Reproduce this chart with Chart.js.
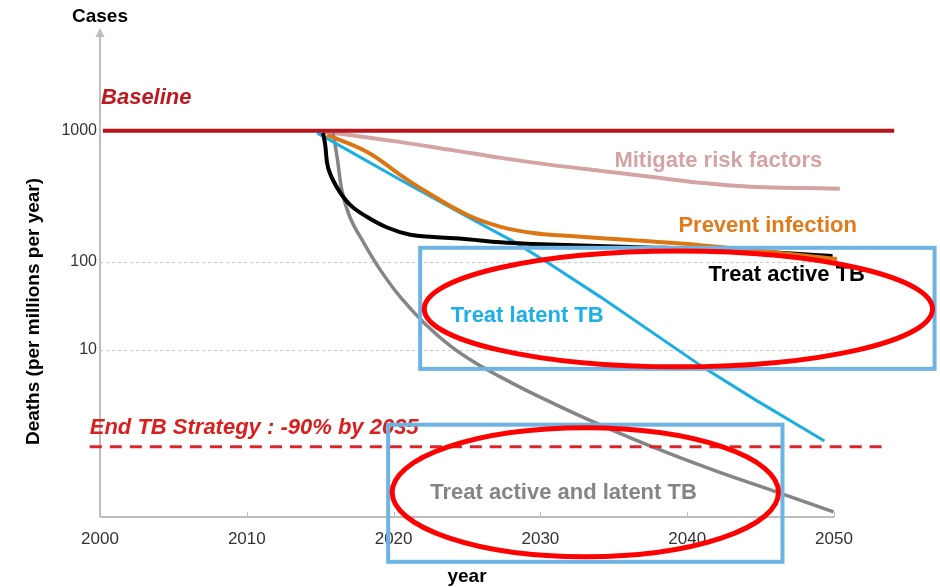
<!DOCTYPE html>
<html>
<head>
<meta charset="utf-8">
<script src="https://cdn.jsdelivr.net/npm/chart.js@4"></script>
<style>
  html, body { margin: 0; padding: 0; background: #fff; }
  #wrap { width: 940px; height: 587px; }
</style>
</head>
<body>
<div id="wrap"><canvas id="c" width="940" height="587"></canvas></div>
<script>
// ---------- data (years, deaths per million per year) ----------
const xTickYears = [2000, 2010, 2020, 2030, 2040, 2050];
const yTickValues = [10, 100, 1000];
const gridValues = [10, 100];

const baselineYears = [2000.2, 2054.1];
const baselineValues = [1000, 1000];

const endTBYears = [1999.3, 2053.8];
const endTBValues = [0.79, 0.79];

const mitigateYears = [2014.9, 2015.9, 2020.4, 2023.9, 2027.3, 2030.7, 2034.1, 2037.5, 2040.9, 2044.3, 2047.7, 2050.4];
const mitigateValues = [983, 965, 824, 716, 622, 550, 495, 446, 401, 374, 367, 361];

const preventYears = [2015.47, 2018.2, 2020.45, 2021.8, 2025.0, 2027.3, 2029.5, 2031.8, 2036.1, 2040.9, 2045.0, 2050.2];
const preventValues = [932, 691, 462, 367, 229, 185, 166, 158, 147, 134, 121, 105];

const activeYears = [2015.2, 2015.34, 2015.54, 2016.16, 2017.04, 2018.2, 2019.56, 2021.13, 2022.7, 2025.02, 2027.27, 2029.52, 2036.13, 2042.26, 2049.9];
const activeValues = [965, 782, 522, 367, 272, 220, 183, 161, 155, 149, 141, 137, 130, 124, 111];

const latentYears = [2014.79, 2020.45, 2025.02, 2028.22, 2030.54, 2034.08, 2041.17, 2044.65, 2049.35];
const latentValues = [965, 423, 221, 142, 97, 40, 6.2, 2.7, 0.92];

const bothYears = [2015.88, 2016.16, 2016.5, 2017.04, 2017.93, 2019.09, 2020.45, 2022.15, 2023.86, 2025.56, 2027.27, 2028.97, 2030.67, 2033.61, 2037.29, 2041.79, 2045.88, 2049.97];
const bothValues = [965, 622, 342, 217, 142, 81.1, 40.0, 19.7, 11.1, 7.12, 4.93, 3.51, 2.56, 1.52, 0.833, 0.43, 0.25, 0.144];

// ---------- axis with compressed lower decades (as in the original slide) ----------
const LOWER_DECADE_RATIO = 88 / 131;
function uOf(v) { const L = Math.log10(v); return L >= 2 ? L : 2 + (L - 2) * LOWER_DECADE_RATIO; }
function vOf(u) { const L = u >= 2 ? u : 2 + (u - 2) / LOWER_DECADE_RATIO; return Math.pow(10, L); }

class BrokenLogScale extends Chart.LogarithmicScale {
  static id = 'brokenLog';
  static defaults = Chart.LogarithmicScale.defaults;
  configure() {
    super.configure();
    this._u0 = uOf(this.min);
    this._u1 = uOf(this.max);
  }
  getPixelForValue(value) {
    if (value === undefined || value === 0) value = this.min;
    if (value === null || isNaN(value)) return NaN;
    return this.getPixelForDecimal((uOf(value) - this._u0) / (this._u1 - this._u0));
  }
  getValueForPixel(pixel) {
    const d = this.getDecimalForPixel(pixel);
    return vOf(this._u0 + d * (this._u1 - this._u0));
  }
}
Chart.register(BrokenLogScale);

function pts(xs, ys) { return xs.map((x, i) => ({ x: x, y: ys[i] })); }

const FONT = '"Liberation Sans", Arial, sans-serif';

// annotation definitions (in data coordinates)
const curveLabels = [
  { text: 'Baseline', year: 2000.07, value: 1786, color: '#c0181f', font: 'italic bold 22px ' + FONT },
  { text: 'Mitigate risk factors', year: 2035.04, value: 590, color: '#d4a4a4', font: 'bold 22px ' + FONT },
  { text: 'Prevent infection', year: 2039.4, value: 188, color: '#e07a1b', font: 'bold 22px ' + FONT },
  { text: 'Treat active TB', year: 2041.45, value: 71, color: '#000000', font: 'bold 22px ' + FONT },
  { text: 'Treat latent TB', year: 2023.9, value: 24.3, color: '#1cb0e6', font: 'bold 22px ' + FONT },
  { text: 'End TB Strategy : -90% by 2035', year: 1999.3, value: 1.30, color: '#d9201f', font: 'italic bold 22px ' + FONT },
  { text: 'Treat active and latent TB', year: 2022.5, value: 0.237, color: '#858585', font: 'bold 22px ' + FONT }
];
const boxes = [
  { x0: 2021.81, x1: 2056.85, v0: 128, v1: 6.08 },
  { x0: 2019.63, x1: 2046.49, v0: 1.41, v1: 0.039 }
];
const ellipses = [
  { x0: 2022.09, x1: 2056.71, v0: 121, v1: 6.41 },
  { x0: 2019.90, x1: 2046.22, v0: 1.30, v1: 0.0445 }
];

const decor = {
  id: 'decor',
  beforeDatasetsDraw(chart) {
    const { ctx, chartArea: a, scales: { x, y } } = chart;
    ctx.save();
    const line = (x0, y0, x1, y1) => { ctx.beginPath(); ctx.moveTo(x0, y0); ctx.lineTo(x1, y1); ctx.stroke(); };
    ctx.strokeStyle = '#c8c8c8'; ctx.lineWidth = 1; ctx.setLineDash([3, 3]);
    for (const v of gridValues) {
      const py = Math.round(y.getPixelForValue(v)) + 0.5;
      line(a.left, py, a.right, py);
    }
    ctx.setLineDash([]);
    ctx.strokeStyle = '#bdbdbd'; ctx.lineWidth = 2;
    line(a.left, a.bottom, a.right, a.bottom);
    ctx.lineWidth = 1;
    for (const t of x.ticks) {
      const px = Math.round(x.getPixelForValue(t.value)) + 0.5;
      line(px, a.bottom, px, a.bottom - 5);
    }
    ctx.lineWidth = 2;
    line(a.left, a.bottom, a.left, a.top + 6);
    ctx.fillStyle = '#bdbdbd';
    ctx.beginPath();
    ctx.moveTo(a.left, a.top);
    ctx.lineTo(a.left - 4.5, a.top + 9);
    ctx.lineTo(a.left + 4.5, a.top + 9);
    ctx.closePath(); ctx.fill();
    ctx.restore();
  },
  afterDraw(chart) {
    const { ctx, chartArea: a, scales: { x, y } } = chart;
    ctx.save();
    ctx.textBaseline = 'middle';
    // axis titles
    ctx.fillStyle = '#000';
    ctx.font = 'bold 19px ' + FONT;
    ctx.textAlign = 'center';
    ctx.fillText('Cases', a.left, a.top - 11);
    ctx.fillText('year', x.getPixelForValue(2025), a.bottom + 60);
    ctx.save();
    ctx.translate(34, (a.top + a.bottom) / 2 + 39);
    ctx.rotate(-Math.PI / 2);
    ctx.fillText('Deaths (per millions per year)', 0, 0);
    ctx.restore();
    // curve labels
    ctx.textAlign = 'left';
    for (const l of curveLabels) {
      ctx.font = l.font; ctx.fillStyle = l.color;
      ctx.fillText(l.text, x.getPixelForValue(l.year), y.getPixelForValue(l.value));
    }
    // boxes
    ctx.strokeStyle = '#6db3e3'; ctx.lineWidth = 4;
    for (const b of boxes) {
      const x0 = x.getPixelForValue(b.x0), x1 = x.getPixelForValue(b.x1);
      const y0 = y.getPixelForValue(b.v0), y1 = y.getPixelForValue(b.v1);
      ctx.strokeRect(x0, y0, x1 - x0, y1 - y0);
    }
    // ellipses
    ctx.strokeStyle = '#ff0000'; ctx.lineWidth = 5;
    for (const e of ellipses) {
      const x0 = x.getPixelForValue(e.x0), x1 = x.getPixelForValue(e.x1);
      const y0 = y.getPixelForValue(e.v0), y1 = y.getPixelForValue(e.v1);
      ctx.beginPath();
      ctx.ellipse((x0 + x1) / 2, (y0 + y1) / 2, (x1 - x0) / 2, (y1 - y0) / 2, 0, 0, Math.PI * 2);
      ctx.stroke();
    }
    ctx.restore();
  }
};

const common = { pointRadius: 0, pointHoverRadius: 0, fill: false, clip: false, cubicInterpolationMode: 'default', tension: 0.4 };

new Chart(document.getElementById('c'), {
  type: 'line',
  data: {
    datasets: [
      Object.assign({ label: 'Baseline', data: pts(baselineYears, baselineValues), borderColor: '#b8141c', borderWidth: 4, order: 0 }, common),
      Object.assign({ label: 'End TB Strategy', data: pts(endTBYears, endTBValues), borderColor: '#d9262a', borderWidth: 3, borderDash: [12, 8], order: 1 }, common),
      Object.assign({ label: 'Treat active and latent TB', data: pts(bothYears, bothValues), borderColor: '#858585', borderWidth: 3.5, order: 5 }, common),
      Object.assign({ label: 'Treat active TB', data: pts(activeYears, activeValues), borderColor: '#000000', borderWidth: 4, order: 3 }, common),
      Object.assign({ label: 'Prevent infection', data: pts(preventYears, preventValues), borderColor: '#dc7612', borderWidth: 4, order: 2 }, common),
      Object.assign({ label: 'Treat latent TB', data: pts(latentYears, latentValues), borderColor: '#1aaee5', borderWidth: 3, order: 4 }, common, { tension: 0 }),
      Object.assign({ label: 'Mitigate risk factors', data: pts(mitigateYears, mitigateValues), borderColor: '#d4a3a3', borderWidth: 4, order: 6 }, common)
    ]
  },
  options: {
    responsive: false,
    animation: false,
    events: [],
    layout: { padding: { left: 0, right: 106, top: 28, bottom: 30 } },
    plugins: { legend: { display: false }, tooltip: { enabled: false }, title: { display: false } },
    scales: {
      x: {
        type: 'linear', min: 2000, max: 2050,
        afterBuildTicks: s => { s.ticks = xTickYears.map(v => ({ value: v })); },
        afterFit: s => { s.height = 40; },
        ticks: { callback: v => String(v), color: '#333', font: { family: FONT, size: 17 }, padding: 12, maxRotation: 0 },
        grid: { display: true, drawOnChartArea: false, drawTicks: false },
        border: { display: false }
      },
      y: {
        type: 'brokenLog', min: 0.126, max: 6100,
        afterBuildTicks: s => { s.ticks = yTickValues.map(v => ({ value: v })); },
        afterFit: s => { s.width = 100; },
        ticks: { callback: v => String(v), color: '#333', font: { family: FONT, size: 16 }, padding: 3 },
        grid: { display: true, drawOnChartArea: false, drawTicks: false },
        border: { display: false }
      }
    }
  },
  plugins: [decor]
});
</script>
</body>
</html>
